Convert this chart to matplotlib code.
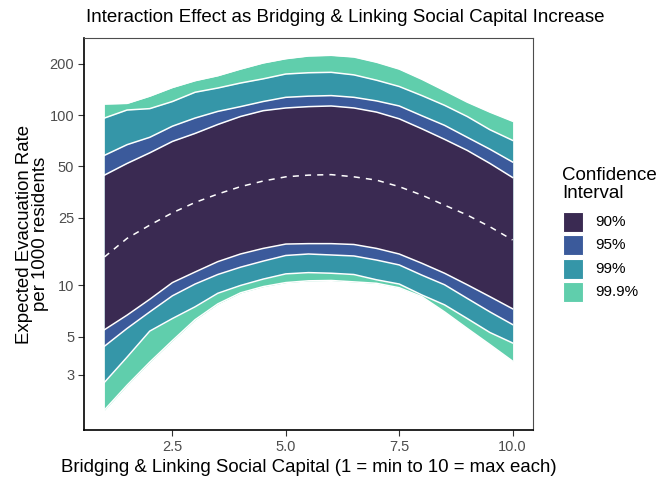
import numpy as np
import matplotlib
matplotlib.use("Agg")
import matplotlib.pyplot as plt
from matplotlib.patches import Rectangle

plt.rcParams['font.family'] = ['Liberation Sans', 'DejaVu Sans']

# valeurs (echelle log)
social_capital = [1, 1.5, 2, 2.5, 3, 3.5, 4, 4.5, 5, 5.5, 6, 6.5, 7, 7.5, 8, 8.5, 9, 9.5, 10]
mean_rate = [14.7, 18.9, 22.6, 26.7, 30.7, 34.4, 38, 41, 43.4, 44.4, 44.7, 43.4, 41.5, 38, 33.9, 29.6, 25.9, 22.1, 18.5]

upper_90 = [44.4, 52, 60, 70, 78, 88, 98, 106, 110, 112, 113, 110, 104, 95, 83, 72, 62, 52, 43]
lower_90 = [5.5, 6.7, 8.3, 10.4, 12.0, 13.8, 15.3, 16.5, 17.5, 17.6, 17.6, 17.4, 16.5, 15.3, 13.5, 11.8, 10.1, 8.6, 7.3]
upper_95 = [58, 67, 74, 86, 96, 105, 112, 120, 127, 129, 130, 127, 121, 113, 99, 87, 74, 63, 53]
lower_95 = [4.4, 5.6, 7.0, 8.7, 10.2, 11.6, 12.8, 13.9, 15.0, 15.3, 15.1, 14.9, 14.1, 13.2, 11.5, 10.1, 8.4, 7.0, 5.9]
upper_99 = [96, 107, 109, 120, 136, 144, 154, 163, 174, 177, 178, 172, 160, 147, 130, 114, 98, 82, 71]
lower_99 = [2.7, 3.8, 5.4, 6.4, 7.5, 9.0, 10.0, 10.9, 11.7, 11.9, 11.8, 11.6, 10.8, 10.2, 8.8, 7.7, 6.4, 5.3, 4.6]
upper_999 = [116, 117, 129, 145, 159, 170, 186, 202, 214, 222, 224, 219, 204, 186, 162, 139, 119, 104, 92]
lower_999 = [1.86, 2.6, 3.55, 4.75, 6.3, 7.8, 9.05, 9.85, 10.4, 10.65, 10.7, 10.5, 10.3, 9.7, 8.6, 7.0, 5.6, 4.5, 3.6]

ci_labels = ["90%", "95%", "99%", "99.9%"]
ci_colors = ["#3a2a52", "#3b5a9b", "#3596a8", "#60ceac"]

y_ticks = [3, 5, 10, 25, 50, 100, 200]
x_ticks = [2.5, 5.0, 7.5, 10.0]

bands = [
    (lower_999, upper_999, ci_colors[3]),
    (lower_99, upper_99, ci_colors[2]),
    (lower_95, upper_95, ci_colors[1]),
    (lower_90, upper_90, ci_colors[0]),
]

W, H = 657, 478
fig = plt.figure(figsize=(W / 100, H / 100), dpi=100)
ax = fig.add_axes([84 / W, 1 - 430 / H, (533 - 84) / W, (430 - 38) / H])

# rubans du plus large au plus etroit, contour blanc
for lo, hi, col in bands:
    ax.fill_between(social_capital, lo, hi, color=col, linewidth=0, zorder=2)
    ax.plot(social_capital, hi, color="white", linewidth=1.1, zorder=3)
    ax.plot(social_capital, lo, color="white", linewidth=1.1, zorder=3)

ax.plot(social_capital, mean_rate, color="white", linewidth=1.1,
        linestyle=(0, (4, 4)), zorder=4)

ax.set_yscale("log")
ax.set_xlim(0.55, 10.45)
ax.set_ylim(1.42, 283)
ax.set_yticks(y_ticks)
ax.set_yticklabels([str(v) for v in y_ticks])
ax.minorticks_off()
ax.set_xticks(x_ticks)
ax.set_xticklabels(["2.5", "5.0", "7.5", "10.0"])
ax.tick_params(labelsize=10.5, labelcolor="#4d4d4d", color="#333333",
               length=4, width=0.8, pad=3)

for side in ["top", "right"]:
    ax.spines[side].set_color("#4d4d4d")
    ax.spines[side].set_linewidth(0.8)
for side in ["left", "bottom"]:
    ax.spines[side].set_color("black")
    ax.spines[side].set_linewidth(1.2)

ax.set_xlabel("Bridging & Linking Social Capital (1 = min to 10 = max each)",
              fontsize=13.4, labelpad=4)
ax.set_ylabel("Expected Evacuation Rate\nper 1000 residents",
              fontsize=13.4, linespacing=0.95)
ax.yaxis.set_label_coords(-0.077, 0.5)
fig.text(86 / W, 1 - 17 / H,
         "Interaction Effect as Bridging & Linking Social Capital Increase",
         fontsize=13.5, ha="left", va="center")

# legende dessinee a la main (position en pixels)
fig.text(562 / W, 1 - 180 / H, "Confidence", fontsize=13.5, va="baseline")
fig.text(562 / W, 1 - 198 / H, "Interval", fontsize=13.5, va="baseline")
key_top = 212
for i, (lab, col) in enumerate(zip(ci_labels, ci_colors)):
    top = key_top + i * 23.3
    fig.add_artist(Rectangle((563 / W, 1 - (top + 20) / H), 20 / W, 20 / H,
                             transform=fig.transFigure, facecolor=col,
                             edgecolor="white", linewidth=0.8))
    fig.text(595 / W, 1 - (top + 10) / H, lab, fontsize=11, va="center")

fig.savefig("out.png", dpi=100)
